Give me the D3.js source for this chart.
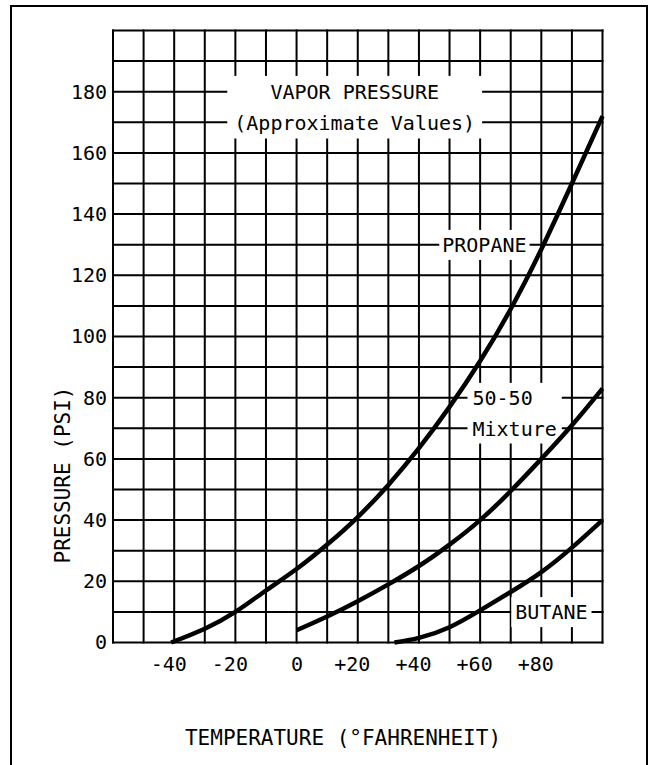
<!DOCTYPE html>
<html>
<head>
<meta charset="utf-8">
<script src="https://cdn.jsdelivr.net/npm/d3@7"></script>
<style>
  body { margin: 0; background: #fff; }
  text { font-family: "DejaVu Sans Mono", monospace; fill: #000; }
</style>
</head>
<body>
<div id="chart"></div>
<script>
// vapor pressure (psi) against temperature (°F)
var propaneTemp = [-41, -30, -20, -10, 0, 10, 20, 30, 40, 50, 60, 70, 80, 90, 100];
var propanePsi  = [0, 4.5, 10, 17, 24, 32, 41, 51.5, 63.5, 77, 92, 109, 128.5, 150, 172];
var mixtureTemp = [0, 10, 20, 30, 40, 50, 60, 70, 80, 90, 100];
var mixturePsi  = [4, 8.5, 13.5, 19, 25, 32, 40, 49.5, 60, 71, 83];
var butaneTemp  = [32, 40, 50, 60, 70, 80, 90, 100];
var butanePsi   = [0, 1.5, 5, 10.5, 16.5, 23, 31, 40];

var xTickLabels = [-40, -20, 0, 20, 40, 60, 80];
var yTickLabels = [0, 20, 40, 60, 80, 100, 120, 140, 160, 180];
var titleLines = ["VAPOR PRESSURE", "(Approximate Values)"];

var width = 650, height = 765;
var margin = ({top: 30.5, right: 47.5, bottom: 122.5, left: 113});

var svg = d3.select("#chart")
  .append("svg")
  .attr("width", width)
  .attr("height", height);

var x = d3.scaleLinear()
  .domain([-60, 100])
  .range([margin.left, width - margin.right]);
var y = d3.scaleLinear()
  .domain([0, 200])
  .range([height - margin.bottom, margin.top]);

// outer frame, runs off the bottom of the page
svg.append("rect")
  .attr("x", 11).attr("y", 6)
  .attr("width", 636).attr("height", 800)
  .attr("fill", "none")
  .attr("stroke", "#000")
  .attr("stroke-width", 2);

// grid, one cell per 10°F and 10 psi
var grid = svg.append("g")
  .attr("stroke", "#000")
  .attr("stroke-width", 2);
grid.selectAll(".v")
  .data(d3.range(-60, 101, 10))
  .join("line")
    .attr("x1", d => x(d)).attr("x2", d => x(d))
    .attr("y1", y(0) + 1).attr("y2", y(200) - 1);
grid.selectAll(".h")
  .data(d3.range(0, 201, 10))
  .join("line")
    .attr("x1", x(-60) - 1).attr("x2", x(100) + 1)
    .attr("y1", d => y(d)).attr("y2", d => y(d));

// tick labels
svg.append("g")
  .attr("transform", `translate(${margin.left},0)`)
  .call(d3.axisLeft(y).tickValues(yTickLabels).tickSize(0).tickPadding(6))
  .call(g => g.select(".domain").remove())
  .call(g => g.selectAll("text")
      .attr("font-family", "DejaVu Sans Mono")
      .attr("font-size", 20));

svg.append("g")
  .attr("transform", `translate(0,${y(0)})`)
  .call(d3.axisBottom(x).tickValues(xTickLabels).tickSize(0).tickPadding(14)
      .tickFormat(d => d > 0 ? "+" + d : String(d)))
  .call(g => g.select(".domain").remove())
  .call(g => g.selectAll("text")
      .attr("font-family", "DejaVu Sans Mono")
      .attr("font-size", 20)
      .attr("dx", d => d === 0 ? 0 : "-0.3em"));

// axis titles
svg.append("text")
  .attr("x", 343)
  .attr("y", 745)
  .attr("text-anchor", "middle")
  .attr("font-size", 21)
  .text("TEMPERATURE (°FAHRENHEIT)");

svg.append("text")
  .attr("transform", "translate(70,475) rotate(-90)")
  .attr("text-anchor", "middle")
  .attr("font-size", 21)
  .text("PRESSURE (PSI)");

// labels sit on a white patch that cuts the grid
var addLabel = (lines, xv, yvs, anchor, pad) => {
  var g = svg.append("g");
  var box = g.append("rect").attr("fill", "#fff");
  var texts = lines.map((t, i) => g.append("text")
    .attr("x", x(xv))
    .attr("y", y(yvs[i]))
    .attr("dy", "0.36em")
    .attr("text-anchor", anchor)
    .attr("font-size", 20)
    .text(t));
  var bb = texts.map(t => t.node().getBBox());
  var x0 = d3.min(bb, b => b.x) - pad[0], x1 = d3.max(bb, b => b.x + b.width) + pad[0];
  var y0 = d3.min(bb, b => b.y) - pad[1], y1 = d3.max(bb, b => b.y + b.height) + pad[1];
  box.attr("x", x0).attr("y", y0).attr("width", x1 - x0).attr("height", y1 - y0);
};

addLabel(titleLines, 19, [180, 170], "middle", [7, 4]);
addLabel(["PROPANE"], 61.4, [130], "middle", [3, 3]);
addLabel(["50-50", "Mixture"], 57.5, [80, 70], "start", [5, 3]);
addLabel(["BUTANE"], 83.3, [10], "middle", [4, 3]);

// curves
var line = d3.line()
  .x(d => x(d[0]))
  .y(d => y(d[1]))
  .curve(d3.curveNatural);

var series = [
  d3.zip(propaneTemp, propanePsi),
  d3.zip(mixtureTemp, mixturePsi),
  d3.zip(butaneTemp, butanePsi)
];

svg.append("g")
  .selectAll("path")
  .data(series)
  .join("path")
    .attr("fill", "none")
    .attr("stroke", "#000")
    .attr("stroke-width", 4.5)
    .attr("stroke-linecap", "butt")
    .attr("d", line);
</script>
</body>
</html>
